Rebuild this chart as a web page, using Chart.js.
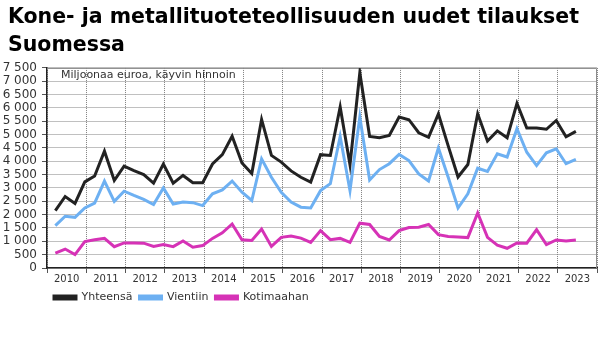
<!DOCTYPE html>
<html>
<head>
<meta charset="utf-8">
<script src="https://cdn.jsdelivr.net/npm/chart.js@4"></script>
<style>
  html, body { margin: 0; padding: 0; background: #fff; }
  #wrap { width: 605px; height: 341px; }
</style>
</head>
<body>
<div id="wrap"><canvas id="myChart" width="605" height="341"></canvas></div>
<script>
// quarterly data, 2010 Q1 .. 2023 Q2 (million euros)
const years = [2010, 2011, 2012, 2013, 2014, 2015, 2016, 2017, 2018, 2019, 2020, 2021, 2022, 2023];

const yhteensa = [
    2150, 2680, 2420, 3230,
    3450, 4380, 3280, 3820,
    3650, 3500, 3180, 3900,
    3180, 3470, 3200, 3200,
    3900, 4250, 4940, 3940,
    3540, 5570, 4220, 3970,
    3640, 3400, 3220, 4250,
    4220, 6040, 3870, 7320,
    4930, 4880, 4970, 5660,
    5560, 5070, 4900, 5780,
    4580, 3410, 3880, 5780,
    4760, 5140, 4880, 6170,
    5250, 5250, 5200, 5530,
    4920, 5120
];

const vientiin = [
    1590, 1940, 1900, 2250,
    2430, 3260, 2500, 2880,
    2720, 2570, 2380, 3000,
    2400, 2470, 2450, 2340,
    2780, 2930, 3260, 2840,
    2530, 4090, 3400, 2840,
    2470, 2280, 2250, 2900,
    3160, 4930, 2900, 5660,
    3300, 3690, 3910, 4260,
    4030, 3530, 3260, 4500,
    3400, 2250, 2780, 3740,
    3620, 4280, 4160, 5220,
    4340, 3840, 4320, 4470,
    3910, 4070
];

const kotimaahan = [
    560, 710, 500, 990,
    1060, 1110, 800, 940,
    940, 930, 810, 880,
    800, 1010, 780, 840,
    1110, 1320, 1650, 1060,
    1030, 1460, 810, 1150,
    1200, 1120, 960, 1400,
    1060, 1110, 960, 1680,
    1630, 1180, 1050, 1400,
    1520, 1530, 1630, 1250,
    1180, 1160, 1140, 2060,
    1150, 860, 740, 940,
    930, 1440, 880, 1050,
    1010, 1050
];

const yTicks = [0, 500, 1000, 1500, 2000, 2500, 3000, 3500, 4000, 4500, 5000, 5500, 6000, 6500, 7000, 7500];

// x in quarter units, year boundaries every 4
const toPoints = arr => arr.map((v, i) => ({ x: i + 0.85, y: v }));

function fmt(v) {
    return String(v).replace(/\B(?=(\d{3})+(?!\d))/g, ' ');
}

Chart.defaults.font.family = 'DejaVu Sans';
Chart.defaults.color = '#333';

const frame = {
    id: 'frame',
    beforeDatasetsDraw(chart) {
        const a = chart.chartArea;
        const ctx = chart.ctx;
        ctx.save();
        ctx.strokeStyle = '#8c8c8c';
        ctx.lineWidth = 1;
        ctx.beginPath();
        ctx.moveTo(a.left, a.top + 0.5);
        ctx.lineTo(a.right - 0.5, a.top + 0.5);
        ctx.lineTo(a.right - 0.5, a.bottom);
        ctx.stroke();
        ctx.restore();
    },
    afterDatasetsDraw(chart) {
        const a = chart.chartArea;
        const ctx = chart.ctx;
        ctx.save();
        ctx.font = '11px "DejaVu Sans"';
        ctx.fillStyle = '#333';
        ctx.textBaseline = 'alphabetic';
        ctx.fillText('Miljoonaa euroa, käyvin hinnoin', a.left + 14, a.top + 10);
        ctx.restore();
    }
};

// nudge title and legend to where the original has them
const shiftBlocks = {
    id: 'shiftBlocks',
    afterLayout(chart) {
        chart.titleBlock.left = 8;
        chart.legend.left = 47;
    }
};

const ctx = document.getElementById('myChart');

new Chart(ctx, {
    type: 'line',
    data: {
        datasets: [
            { label: 'Yhteensä', data: toPoints(yhteensa), borderColor: '#222222', backgroundColor: '#222222', borderWidth: 3 },
            { label: 'Vientiin', data: toPoints(vientiin), borderColor: '#6db0f2', backgroundColor: '#6db0f2', borderWidth: 3 },
            { label: 'Kotimaahan', data: toPoints(kotimaahan), borderColor: '#d632b6', backgroundColor: '#d632b6', borderWidth: 3 }
        ]
    },
    options: {
        responsive: false,
        animation: false,
        elements: {
            point: { radius: 0 },
            line: { tension: 0, borderJoinStyle: 'miter' }
        },
        layout: { padding: { left: 0, right: 8, top: 0, bottom: 28 } },
        plugins: {
            title: {
                display: true,
                text: ['Kone- ja metallituoteteollisuuden uudet tilaukset', 'Suomessa'],
                align: 'start',
                color: '#000',
                font: { size: 20.5, weight: 'bold', lineHeight: 1.34 },
                padding: { top: 4, bottom: 9 }
            },
            legend: {
                position: 'bottom',
                align: 'start',
                labels: {
                    boxWidth: 22,
                    boxHeight: 3,
                    padding: 7,
                    color: '#333',
                    font: { size: 11 }
                }
            },
            tooltip: { enabled: false }
        },
        scales: {
            x: {
                type: 'linear',
                min: 0,
                max: 56,
                afterBuildTicks: axis => {
                    const t = [];
                    for (let v = 0; v <= 56; v += 2) t.push({ value: v });
                    axis.ticks = t;
                },
                ticks: {
                    autoSkip: false,
                    maxRotation: 0,
                    padding: 0,
                    font: { size: 10 },
                    color: '#333',
                    callback: v => (v % 4 === 2 ? String(years[(v - 2) / 4]) : '')
                },
                grid: {
                    color: c => (c.tick && c.tick.value % 4 === 0 ? '#808080' : 'rgba(0,0,0,0)'),
                    tickColor: c => (c.tick && c.tick.value % 4 === 0 ? '#555' : 'rgba(0,0,0,0)'),
                    tickLength: 5,
                    tickBorderDash: []
                },
                border: { display: true, color: '#222', width: 1.5, dash: [1, 1] }
            },
            y: {
                min: 0,
                max: 7500,
                afterBuildTicks: axis => {
                    axis.ticks = yTicks.map(v => ({ value: v }));
                },
                afterFit: axis => { axis.width = 47; },
                ticks: {
                    autoSkip: false,
                    padding: 5,
                    font: { size: 12 },
                    color: '#333',
                    callback: v => fmt(v)
                },
                grid: {
                    color: '#808080',
                    tickColor: '#555',
                    tickLength: 5,
                    tickBorderDash: []
                },
                border: { display: true, color: '#222', width: 1.5, dash: [1, 1] }
            }
        }
    },
    plugins: [frame, shiftBlocks]
});
</script>
</body>
</html>
